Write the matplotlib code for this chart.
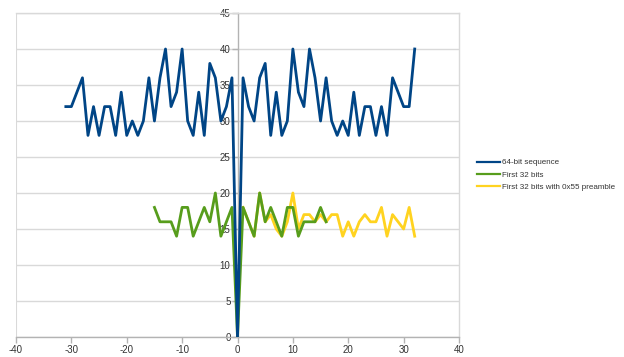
import matplotlib
matplotlib.use("Agg")
import matplotlib.pyplot as plt
import numpy as np

plt.rcParams['font.family'] = ['Liberation Sans', 'DejaVu Sans']
plt.rcParams['axes.unicode_minus'] = False

# 64-bit sequence, lags -31..32
blue_x = list(range(-31, 33))
blue_y = [32, 32, 34, 36, 28, 32, 28, 32, 32, 28, 34, 28, 30, 28, 30, 36,
          30, 36, 40, 32, 34, 40, 30, 28, 34, 28, 38, 36, 30, 32, 36, 0,
          36, 32, 30, 36, 38, 28, 34, 28, 30, 40, 34, 32, 40, 36, 30, 36,
          30, 28, 30, 28, 34, 28, 32, 32, 28, 32, 28, 36, 34, 32, 32, 40]

# First 32 bits, lags -15..16
green_x = list(range(-15, 17))
green_y = [18, 16, 16, 16, 14, 18, 18, 14, 16, 18, 16, 20, 14, 16, 18, 0,
           18, 16, 14, 20, 16, 18, 16, 14, 18, 18, 14, 16, 16, 16, 18, 16]

# First 32 bits with 0x55 preamble, lags 1..32
yellow_x = list(range(1, 33))
yellow_y = [18, 16, 14, 20, 16, 17, 15, 14, 16, 20, 15, 17, 17, 16, 17, 16,
            17, 17, 14, 16, 14, 16, 17, 16, 16, 18, 14, 17, 16, 15, 18, 14]

labels = ["64-bit sequence", "First 32 bits", "First 32 bits with 0x55 preamble"]
colors = ["#004586", "#579D1C", "#FFD320"]

fig = plt.figure(figsize=(6.24, 3.57), dpi=100)
ax = fig.add_axes([16/624, 1-337/357, (459-16)/624, (337-13)/357])

lb, = ax.plot(blue_x, blue_y, color=colors[0], lw=2.0, zorder=4, label=labels[0])
lg, = ax.plot(green_x, green_y, color=colors[1], lw=2.0, zorder=3, label=labels[1])
ly, = ax.plot(yellow_x, yellow_y, color=colors[2], lw=2.0, zorder=2, label=labels[2])

ax.set_xlim(-40, 40)
ax.set_ylim(0, 45)
ax.set_xticks(np.arange(-40, 41, 10))
ax.set_yticks(np.arange(0, 46, 5))

gridc = "#d9d9d9"
ax.grid(axis='y', color=gridc, lw=1, zorder=0)
ax.set_axisbelow(True)

for s in ['top', 'right']:
    ax.spines[s].set_color(gridc)
    ax.spines[s].set_linewidth(1)
ax.spines['bottom'].set_color("#b3b3b3")
ax.spines['bottom'].set_linewidth(1)
ax.spines['left'].set_position(('data', 0))
ax.spines['left'].set_color("#b3b3b3")
ax.spines['left'].set_linewidth(1)
ax.axvline(-40, color=gridc, lw=1.5, zorder=0)

ax.tick_params(axis='both', labelsize=7, colors="#b3b3b3", labelcolor="#333333",
               length=4, width=1, direction='out')
ax.tick_params(axis='y', pad=1)
ax.tick_params(axis='x', pad=2)

leg = ax.legend(handles=[lb, lg, ly], loc='center left',
                bbox_to_anchor=((474 - 16) / 443, 0.5),
                frameon=False, fontsize=5.8, handlelength=2.8, handletextpad=0.3,
                labelspacing=0.6, borderaxespad=0)
for line in leg.get_lines():
    line.set_linewidth(1.6)
for t in leg.get_texts():
    t.set_color("#333333")

fig.savefig("out.png", dpi=100)
